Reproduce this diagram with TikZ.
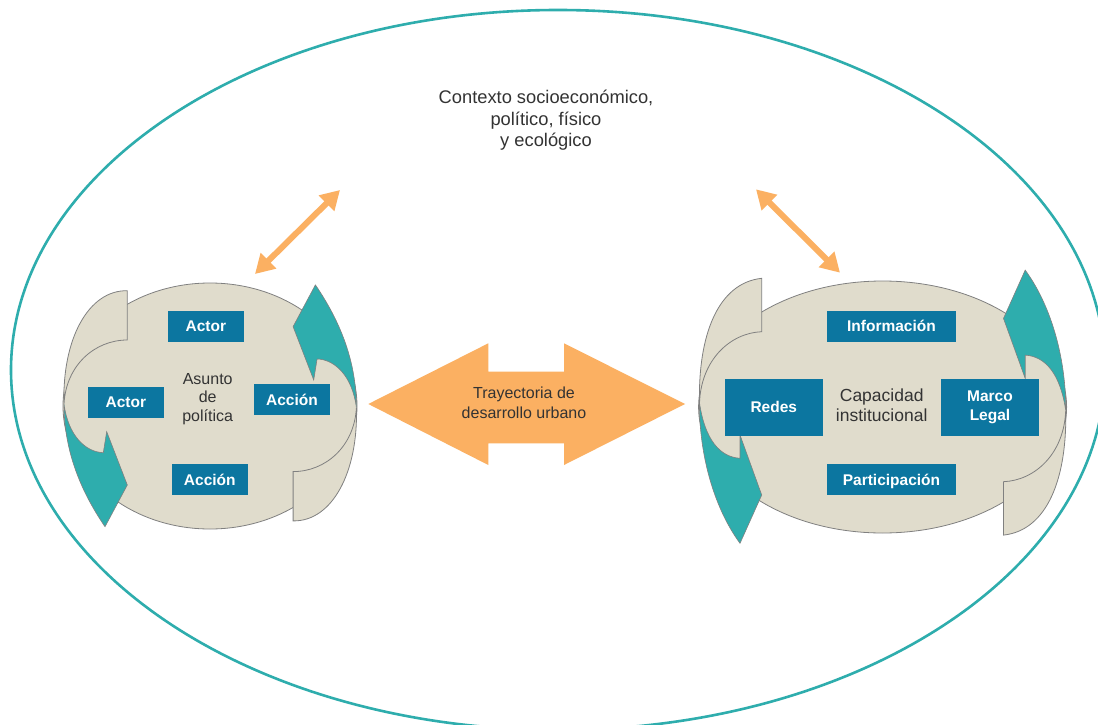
\documentclass[tikz,border=0pt]{standalone}
\usepackage{fontspec}
\setmainfont{Liberation Sans}
\usetikzlibrary{arrows.meta}
\definecolor{ringteal}{HTML}{2EADAD}
\definecolor{headteal}{HTML}{2EADAD}
\definecolor{boxblue}{HTML}{0C76A0}
\definecolor{blobfill}{HTML}{E0DCCC}
\definecolor{blobline}{HTML}{808080}
\definecolor{orangeA}{HTML}{FBB062}
\definecolor{txtgray}{HTML}{333333}
\begin{document}
\begin{tikzpicture}[x=1pt,y=-1pt,
  blob/.style={fill=blobfill, draw=blobline, line width=0.8pt},
  tailpart/.style={fill=blobfill, draw=blobline, line width=0.8pt},
  headpart/.style={fill=headteal, draw=blobline, line width=0.6pt},
  boxbase/.style={fill=boxblue, text=white, inner sep=0pt, minimum width=76pt, minimum height=31pt,
    font=\bfseries\fontsize{15.5}{18.5}\selectfont, align=center},
  boxA/.style={boxbase, text height=11.2pt, text depth=0pt},
  lbl/.style={text=txtgray, inner sep=0pt, align=center},
  oarrow/.style={draw=orangeA, line width=6pt,
    {Triangle[length=19pt,width=21pt]}-{Triangle[length=19pt,width=21pt]}}
]
\useasboundingbox (0,0) rectangle (1098,725);
\fill[white] (0,0) rectangle (1098,725);

% outer context ring
\draw[ringteal, line width=2.6pt] (558,370) ellipse [x radius=547, y radius=360];

% ---------- left cycle ----------
\path[blob] (210,406) ellipse [x radius=147, y radius=123];
\path[tailpart] (127.3,290.7) -- (127.3,340) .. controls (95,340) and (66,365) .. (64,404)
   .. controls (62,340) and (88,290) .. cycle;
\path[headpart] (64,404) .. controls (68,435) and (85,452) .. (103.3,452.7) -- (106.7,431.7)
   -- (127.3,485) -- (105,526.7) .. controls (80,490) and (64,450) .. cycle;
\begin{scope}[rotate around={180:(210.2,405.8)}]
\path[tailpart] (127.3,290.7) -- (127.3,340) .. controls (95,340) and (66,365) .. (64,404)
   .. controls (62,340) and (88,290) .. cycle;
\path[headpart] (64,404) .. controls (68,435) and (85,452) .. (103.3,452.7) -- (106.7,431.7)
   -- (127.3,485) -- (105,526.7) .. controls (80,490) and (64,450) .. cycle;
\end{scope}

% ---------- right cycle ----------
\path[blob] (882.6,407) ellipse [x radius=184, y radius=126];
\path[tailpart] (761.7,278.3) -- (761.7,331.7) .. controls (730,333) and (701,360) .. (699.5,403)
   .. controls (698,335) and (718,283) .. cycle;
\path[headpart] (699.5,403) .. controls (705,440) and (720,457) .. (740,458.3) -- (740,435)
   -- (761.7,495) -- (740,543.3) .. controls (712,505) and (699,450) .. cycle;
\begin{scope}[rotate around={180:(882.6,406.7)}]
\path[tailpart] (761.7,278.3) -- (761.7,331.7) .. controls (730,333) and (701,360) .. (699.5,403)
   .. controls (698,335) and (718,283) .. cycle;
\path[headpart] (699.5,403) .. controls (705,440) and (720,457) .. (740,458.3) -- (740,435)
   -- (761.7,495) -- (740,543.3) .. controls (712,505) and (699,450) .. cycle;
\end{scope}

% ---------- central double arrow ----------
\fill[orangeA] (368.3,404) -- (488.3,343.3) -- (488.3,371.7) -- (564,371.7) -- (564,343.3)
  -- (685,404) -- (564,465) -- (564,443.3) -- (488.3,443.3) -- (488.3,465) -- cycle;
\node[lbl, font=\fontsize{16}{20}\selectfont] (tray) at (524,402.5) {Trayectoria de\\desarrollo urbano};

% ---------- texts ----------
\node[lbl, font=\fontsize{18.3}{21.5}\selectfont] (ctx) at (546,120.5)
  {Contexto socioeconómico,\\político, físico\\y ecológico};
\node[lbl, font=\fontsize{16}{18.7}\selectfont] (asunto) at (207.7,399) {Asunto\\de\\política};
\node[lbl, font=\fontsize{17.5}{20}\selectfont] (capac) at (881.7,405.5) {Capacidad\\institucional};

% ---------- boxes ----------
\node[boxA] (actorT) at (205.8,326.3) {Actor};
\node[boxA] (actorL) at (125.8,402.3) {Actor};
\node[boxA] (accionR) at (292,399.5) {Acción};
\node[boxA] (accionB) at (209.8,479.5) {Acción};
\node[boxA, minimum width=129pt] (info) at (891.5,326.3) {Información};
\node[boxA, minimum width=98pt, minimum height=57pt] (redes) at (773.8,407.3) {Redes};
\node[boxbase, minimum width=98pt, minimum height=57pt] (marco) at (990,407.3) {Marco\\Legal};
\node[boxA, minimum width=129pt] (partic) at (891.5,479.5) {Participación};

% ---------- context links ----------
\coordinate (ctxL) at (340,190);
\coordinate (cycL) at (255,274);
\coordinate (ctxR) at (756,189.3);
\coordinate (cycR) at (840,272.7);
\draw[oarrow] (cycL) -- (ctxL);
\draw[oarrow] (ctxR) -- (cycR);
\end{tikzpicture}
\end{document}
